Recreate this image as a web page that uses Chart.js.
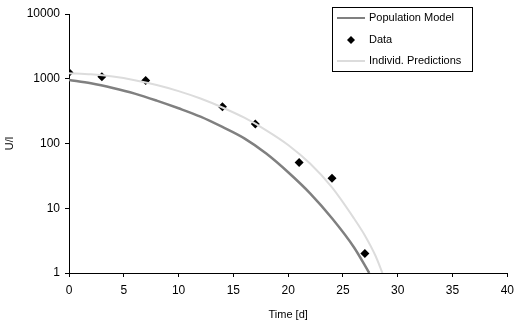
<!DOCTYPE html>
<html lang="en">
<head>
  <meta charset="UTF-8" />
  <title>U/l over time</title>
  <script src="https://cdn.jsdelivr.net/npm/chart.js@4"></script>
  <style>
    html, body { margin: 0; padding: 0; background: #fff; }
    #wrap { width: 520px; height: 325px; }
  </style>
</head>
<body>
  <div id="wrap"><canvas id="grafico"></canvas></div>

  <script>
    // data
    const diasDatos = [0, 3, 7, 14, 17, 21, 24, 27];
    const valoresDatos = [1250, 1070, 940, 370, 200, 51, 29, 2.0];

    const diasPob = [0, 2, 4, 6, 8, 10, 12, 14, 16, 18, 20, 22, 24, 26, 27.4];
    const valoresPob = [960, 850, 720, 590, 460, 350, 260, 180, 120, 70, 36, 17, 7, 2.5, 1];

    const diasInd = [0, 2, 4, 6, 8, 10, 12, 14, 16, 18, 20, 22, 24, 26, 27, 28, 28.6];
    const valoresInd = [1220, 1170, 1080, 950, 800, 645, 495, 360, 250, 160, 95, 49, 21, 7, 3.8, 1.8, 1];

    const ticksY = [1, 10, 100, 1000, 10000];

    const pares = (xs, ys) => xs.map((x, i) => ({ x: x, y: ys[i] }));

    const fuente = { family: 'Liberation Sans, Arial, sans-serif', size: 11 };

    // legend box drawn inside the plot area, like the original
    const leyenda = {
      id: 'leyenda',
      afterDraw(chart) {
        const c = chart.ctx;
        const x0 = 332, y0 = 7, w = 140, h = 64;
        c.save();
        c.fillStyle = '#fff';
        c.fillRect(x0, y0, w, h);
        c.strokeStyle = '#000';
        c.lineWidth = 1;
        c.strokeRect(x0 + 0.5, y0 + 0.5, w, h);
        c.font = '11px Liberation Sans, Arial, sans-serif';
        c.textBaseline = 'middle';
        c.fillStyle = '#000';

        c.strokeStyle = '#808080';
        c.lineWidth = 2;
        c.beginPath(); c.moveTo(337, 18); c.lineTo(365, 18); c.stroke();
        c.fillText('Population Model', 369, 18);

        c.beginPath();
        c.moveTo(351, 36); c.lineTo(355, 40); c.lineTo(351, 44); c.lineTo(347, 40);
        c.closePath(); c.fill();
        c.fillText('Data', 369, 40);

        c.strokeStyle = '#dcdcdc';
        c.beginPath(); c.moveTo(337, 61); c.lineTo(365, 61); c.stroke();
        c.fillText('Individ. Predictions', 369, 61);
        c.restore();
      }
    };

    new Chart(document.getElementById('grafico'), {
      type: 'scatter',
      data: {
        datasets: [
          {
            label: 'Population Model',
            data: pares(diasPob, valoresPob),
            showLine: true,
            borderColor: '#808080',
            borderWidth: 2.5,
            pointRadius: 0,
            cubicInterpolationMode: 'monotone'
          },
          {
            label: 'Individ. Predictions',
            data: pares(diasInd, valoresInd),
            showLine: true,
            borderColor: '#dcdcdc',
            borderWidth: 2,
            pointRadius: 0,
            cubicInterpolationMode: 'monotone'
          },
          {
            label: 'Data',
            data: pares(diasDatos, valoresDatos),
            pointStyle: 'rectRot',
            pointRadius: 4.5,
            backgroundColor: '#000',
            borderColor: '#000',
            borderWidth: 0
          }
        ]
      },
      options: {
        responsive: true,
        maintainAspectRatio: false,
        animation: false,
        layout: { padding: { top: 14, right: 11, left: 0, bottom: 0 } },
        plugins: {
          legend: { display: false },
          tooltip: { enabled: false }
        },
        scales: {
          x: {
            type: 'linear',
            min: 0,
            max: 40,
            ticks: { stepSize: 5, color: '#000', font: { ...fuente, size: 12 }, padding: 6, maxRotation: 0 },
            grid: { drawOnChartArea: false, drawTicks: true, tickLength: 4, color: '#000' },
            border: { display: true, color: '#000', width: 1 },
            title: { display: true, text: 'Time [d]', color: '#000', font: fuente, padding: { top: 3, bottom: 3 } },
            afterFit(s) { s.height = 52; }
          },
          y: {
            type: 'logarithmic',
            min: 1,
            max: 10000,
            afterBuildTicks(s) { s.ticks = ticksY.map(v => ({ value: v })); },
            ticks: { color: '#000', font: { ...fuente, size: 12 }, padding: 5, callback: v => String(v) },
            grid: { drawOnChartArea: false, drawTicks: true, tickLength: 4, color: '#000' },
            border: { display: true, color: '#000', width: 1 },
            title: { display: true, text: 'U/l', color: '#000', font: fuente, padding: { top: 3, bottom: 0 } },
            afterFit(s) { s.width = 69; }
          }
        }
      },
      plugins: [leyenda]
    });
  </script>
</body>
</html>
